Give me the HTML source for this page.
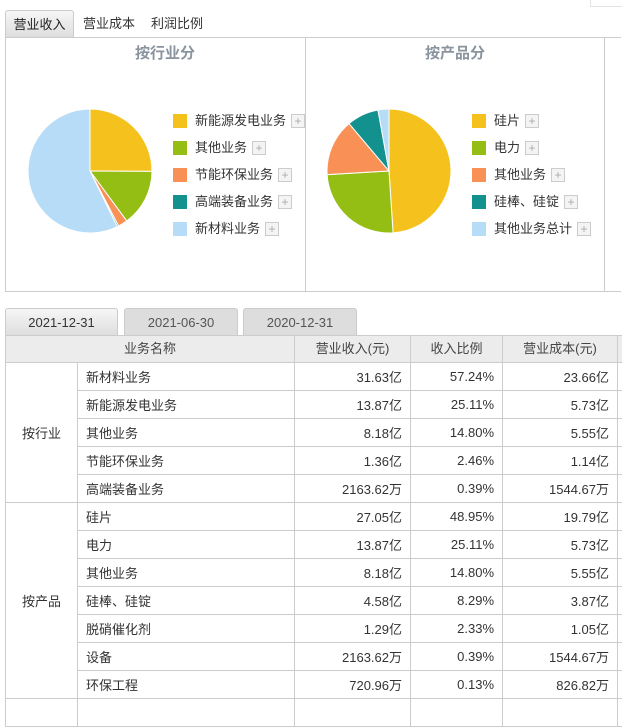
<!DOCTYPE html><html><head><meta charset="utf-8"><style>
body{margin:0;width:622px;height:703px;overflow:hidden;background:#fff;font-family:"Liberation Sans","Noto Sans CJK SC",sans-serif;font-size:13px;color:#333;position:relative}
.a{position:absolute}
.tab{position:absolute;top:10px;height:27px;line-height:27px;font-size:13px}
.lg{position:absolute;font-size:13px;line-height:14px;white-space:nowrap}
.lg i{display:inline-block;width:14px;height:14px;vertical-align:top;margin-right:8px}
.lg b{display:inline-block;width:12px;height:12px;border:1px solid #ccc;background:#f4f4f4;color:#aaa;font-weight:normal;font-size:12px;line-height:12px;text-align:center;margin-left:5px;vertical-align:top}
.dt{position:absolute;top:308px;height:27px;line-height:27px;text-align:center;font-size:13px;color:#555;border:1px solid #ccc;border-bottom:none;border-radius:3px 3px 0 0;background:#ddd}
table{position:absolute;left:5px;top:335px;border-collapse:collapse;font-size:13px;table-layout:fixed;width:622px}
td{border:1px solid #ccc;height:27px;padding:0 8px;white-space:nowrap;overflow:hidden}
td.r{text-align:right}
th{font-weight:normal;height:26px;padding:0;line-height:26px;border:1px solid #ccc;background:#ececec;color:#444;font-size:13px}
</style></head><body>
<div class="tab" style="left:5px;width:67px;text-align:center;background:linear-gradient(#f6f6f6,#ddd);border:1px solid #ccc;border-bottom:none;border-radius:3px 3px 0 0;color:#222">营业收入</div>
<div class="tab" style="left:83px">营业成本</div>
<div class="tab" style="left:151px">利润比例</div>
<div class="a" style="left:590px;top:0;width:32px;height:6px;border:1px solid #e4e4e4;border-top:none"></div>
<div class="a" style="left:5px;top:37px;width:616px;height:255px;border:1px solid #ccc;border-right:none;box-sizing:border-box"></div>
<div class="a" style="left:305px;top:37px;width:1px;height:255px;background:#ccc"></div>
<div class="a" style="left:604px;top:37px;width:1px;height:255px;background:#ccc"></div>
<div class="a" style="left:105px;top:42px;width:120px;text-align:center;font-size:15px;font-weight:bold;color:#8a949e">按行业分</div>
<div class="a" style="left:395px;top:42px;width:120px;text-align:center;font-size:15px;font-weight:bold;color:#8a949e">按产品分</div>
<svg class="a" style="left:0;top:0" width="622" height="300" id="s"></svg>
<div class="lg" style="left:173px;top:114px"><i style="background:#f5c21d"></i>新能源发电业务<b>+</b></div>
<div class="lg" style="left:173px;top:141px"><i style="background:#95be14"></i>其他业务<b>+</b></div>
<div class="lg" style="left:173px;top:168px"><i style="background:#f99157"></i>节能环保业务<b>+</b></div>
<div class="lg" style="left:173px;top:195px"><i style="background:#12918f"></i>高端装备业务<b>+</b></div>
<div class="lg" style="left:173px;top:222px"><i style="background:#b7dcf7"></i>新材料业务<b>+</b></div>
<div class="lg" style="left:472px;top:114px"><i style="background:#f5c21d"></i>硅片<b>+</b></div>
<div class="lg" style="left:472px;top:141px"><i style="background:#95be14"></i>电力<b>+</b></div>
<div class="lg" style="left:472px;top:168px"><i style="background:#f99157"></i>其他业务<b>+</b></div>
<div class="lg" style="left:472px;top:195px"><i style="background:#12918f"></i>硅棒、硅锭<b>+</b></div>
<div class="lg" style="left:472px;top:222px"><i style="background:#b7dcf7"></i>其他业务总计<b>+</b></div>
<div class="dt" style="left:5px;width:111px;background:linear-gradient(#f6f6f6,#ddd);color:#333">2021-12-31</div>
<div class="dt" style="left:124px;width:112px">2021-06-30</div>
<div class="dt" style="left:243px;width:112px">2020-12-31</div>
<table>
<colgroup><col style="width:72px"><col style="width:217px"><col style="width:116px"><col style="width:92px"><col style="width:115px"><col style="width:10px"></colgroup>
<tr><th colspan="2">业务名称</th><th>营业收入(元)</th><th>收入比例</th><th>营业成本(元)</th><th></th></tr>
<tr><td rowspan="5" style="text-align:center">按行业</td><td>新材料业务</td><td class="r">31.63亿</td><td class="r">57.24%</td><td class="r">23.66亿</td><td></td></tr>
<tr><td>新能源发电业务</td><td class="r">13.87亿</td><td class="r">25.11%</td><td class="r">5.73亿</td><td></td></tr>
<tr><td>其他业务</td><td class="r">8.18亿</td><td class="r">14.80%</td><td class="r">5.55亿</td><td></td></tr>
<tr><td>节能环保业务</td><td class="r">1.36亿</td><td class="r">2.46%</td><td class="r">1.14亿</td><td></td></tr>
<tr><td>高端装备业务</td><td class="r">2163.62万</td><td class="r">0.39%</td><td class="r">1544.67万</td><td></td></tr>
<tr><td rowspan="7" style="text-align:center">按产品</td><td>硅片</td><td class="r">27.05亿</td><td class="r">48.95%</td><td class="r">19.79亿</td><td></td></tr>
<tr><td>电力</td><td class="r">13.87亿</td><td class="r">25.11%</td><td class="r">5.73亿</td><td></td></tr>
<tr><td>其他业务</td><td class="r">8.18亿</td><td class="r">14.80%</td><td class="r">5.55亿</td><td></td></tr>
<tr><td>硅棒、硅锭</td><td class="r">4.58亿</td><td class="r">8.29%</td><td class="r">3.87亿</td><td></td></tr>
<tr><td>脱硝催化剂</td><td class="r">1.29亿</td><td class="r">2.33%</td><td class="r">1.05亿</td><td></td></tr>
<tr><td>设备</td><td class="r">2163.62万</td><td class="r">0.39%</td><td class="r">1544.67万</td><td></td></tr>
<tr><td>环保工程</td><td class="r">720.96万</td><td class="r">0.13%</td><td class="r">826.82万</td><td></td></tr>
<tr><td></td><td></td><td></td><td></td><td></td><td></td></tr>
</table>
<script>
var C=["#f5c21d","#95be14","#f99157","#12918f","#b7dcf7"];
function pie(cx,cy,r,v){var s=document.getElementById('s'),a=0,h='';
for(var i=0;i<v.length;i++){var b=a+v[i]/100*2*Math.PI;
var x1=cx+r*Math.sin(a),y1=cy-r*Math.cos(a),x2=cx+r*Math.sin(b),y2=cy-r*Math.cos(b);
h+='<path d="M'+cx+' '+cy+'L'+x1+' '+y1+'A'+r+' '+r+' 0 '+(b-a>Math.PI?1:0)+' 1 '+x2+' '+y2+'Z" fill="'+C[i]+'" stroke="#fff" stroke-width="1"/>';a=b;}
s.innerHTML+=h;}
pie(90,171,62,[25.11,14.8,2.46,0.39,57.24]);
pie(389,171,62,[48.95,25.11,14.8,8.29,2.85]);
</script>
</body></html>
